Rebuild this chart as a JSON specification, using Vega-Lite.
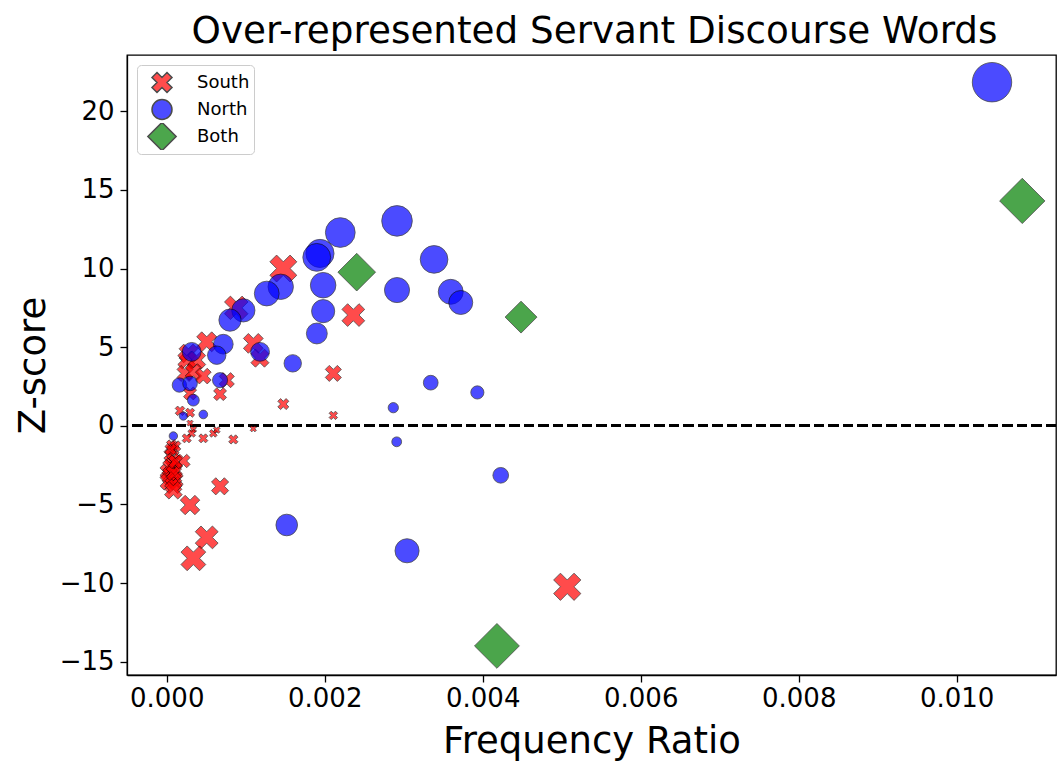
{
  "$schema": "https://vega.github.io/schema/vega-lite/v6.json",
  "width": 929,
  "height": 620,
  "autosize": {"type": "none"},
  "padding": {"left": 127, "top": 55, "right": 1, "bottom": 87},
  "background": "white",
  "title": {"text": "Over-represented Servant Discourse Words", "fontSize": 37.3, "font": "DejaVu Sans", "fontWeight": "normal", "anchor": "middle", "offset": 4, "dx": 3, "color": "black"},
  "config": {
    "view": {"stroke": "black", "strokeWidth": 1.3},
    "axis": {"grid": false, "domainColor": "black", "domainWidth": 1.3, "tickColor": "black", "tickWidth": 1.3, "tickSize": 7, "labelColor": "black", "titleColor": "black", "labelFont": "DejaVu Sans", "titleFont": "DejaVu Sans", "labelFontSize": 26, "titleFontSize": 37, "titleFontWeight": "normal"},
    "legend": {"orient": "top-left", "offset": 10, "padding": 4, "strokeColor": "#cccccc", "fillColor": "white", "cornerRadius": 4, "labelFontSize": 18, "labelFont": "DejaVu Sans", "labelColor": "black", "symbolSize": 400, "rowPadding": 0, "clipHeight": 27, "symbolOffset": 10, "labelOffset": 24, "symbolOpacity": 0.7}
  },
  "data": {"values": [
    {"group": "South", "ratio": 0.001476, "z": 10.0},
    {"group": "South", "ratio": 0.002362, "z": 7.04},
    {"group": "South", "ratio": 0.002109, "z": 3.33},
    {"group": "South", "ratio": 0.001476, "z": 1.38},
    {"group": "South", "ratio": 0.002109, "z": 0.66},
    {"group": "South", "ratio": 0.001096, "z": -0.19},
    {"group": "South", "ratio": 0.000843, "z": -0.87},
    {"group": "South", "ratio": 0.001096, "z": 5.24},
    {"group": "South", "ratio": 0.00118, "z": 4.3},
    {"group": "South", "ratio": 0.000506, "z": 5.34},
    {"group": "South", "ratio": 0.000274, "z": 4.6},
    {"group": "South", "ratio": 0.000253, "z": 4.18},
    {"group": "South", "ratio": 0.00038, "z": 4.18},
    {"group": "South", "ratio": 0.000232, "z": 3.33},
    {"group": "South", "ratio": 0.000337, "z": 3.43},
    {"group": "South", "ratio": 0.000463, "z": 3.16},
    {"group": "South", "ratio": 0.00076, "z": 2.9},
    {"group": "South", "ratio": 0.000675, "z": 2.01},
    {"group": "South", "ratio": 0.000295, "z": 2.06},
    {"group": "South", "ratio": 0.000168, "z": 0.95},
    {"group": "South", "ratio": 0.000295, "z": 0.83},
    {"group": "South", "ratio": 0.000295, "z": 0.17},
    {"group": "South", "ratio": 0.000337, "z": -0.23},
    {"group": "South", "ratio": 0.000316, "z": -0.48},
    {"group": "South", "ratio": 0.000253, "z": -0.8},
    {"group": "South", "ratio": 0.000463, "z": -0.8},
    {"group": "South", "ratio": 0.00059, "z": -0.48},
    {"group": "South", "ratio": 0.000633, "z": -0.27},
    {"group": "South", "ratio": 0.00088, "z": 7.5},
    {"group": "South", "ratio": 0.000063, "z": -1.23},
    {"group": "South", "ratio": 0.000084, "z": -1.54},
    {"group": "South", "ratio": 0.000042, "z": -1.86},
    {"group": "South", "ratio": 0.000084, "z": -2.18},
    {"group": "South", "ratio": 0.00021, "z": -2.24},
    {"group": "South", "ratio": 0.000063, "z": -2.5},
    {"group": "South", "ratio": 0.000105, "z": -2.82},
    {"group": "South", "ratio": 0.00001, "z": -2.92},
    {"group": "South", "ratio": 0.000042, "z": -3.24},
    {"group": "South", "ratio": 0.000105, "z": -3.45},
    {"group": "South", "ratio": 0.00002, "z": -3.56},
    {"group": "South", "ratio": 0.000084, "z": -3.77},
    {"group": "South", "ratio": 0.000084, "z": -4.1},
    {"group": "South", "ratio": 0.00011, "z": -1.3},
    {"group": "South", "ratio": 0.00004, "z": -2.6},
    {"group": "South", "ratio": 0.00009, "z": -3.0},
    {"group": "South", "ratio": 0.00011, "z": -2.3},
    {"group": "South", "ratio": 0.00005, "z": -1.5},
    {"group": "South", "ratio": 0.000675, "z": -3.85},
    {"group": "South", "ratio": 0.000295, "z": -5.04},
    {"group": "South", "ratio": 0.000506, "z": -7.1},
    {"group": "South", "ratio": 0.000337, "z": -8.43},
    {"group": "South", "ratio": 0.00507, "z": -10.24},
    {"group": "North", "ratio": 0.010447, "z": 21.85},
    {"group": "North", "ratio": 0.002915, "z": 13.03},
    {"group": "North", "ratio": 0.002197, "z": 12.29},
    {"group": "North", "ratio": 0.00194, "z": 10.96},
    {"group": "North", "ratio": 0.001899, "z": 10.71},
    {"group": "North", "ratio": 0.003384, "z": 10.58},
    {"group": "North", "ratio": 0.00198, "z": 8.94},
    {"group": "North", "ratio": 0.002915, "z": 8.63},
    {"group": "North", "ratio": 0.001443, "z": 8.84},
    {"group": "North", "ratio": 0.003595, "z": 8.52},
    {"group": "North", "ratio": 0.001266, "z": 8.41},
    {"group": "North", "ratio": 0.003722, "z": 7.84},
    {"group": "North", "ratio": 0.00198, "z": 7.29},
    {"group": "North", "ratio": 0.00097, "z": 7.34},
    {"group": "North", "ratio": 0.000801, "z": 6.72},
    {"group": "North", "ratio": 0.0019, "z": 5.87},
    {"group": "North", "ratio": 0.000716, "z": 5.19},
    {"group": "North", "ratio": 0.000633, "z": 4.49},
    {"group": "North", "ratio": 0.000316, "z": 4.7},
    {"group": "North", "ratio": 0.001181, "z": 4.7},
    {"group": "North", "ratio": 0.001595, "z": 3.97},
    {"group": "North", "ratio": 0.000675, "z": 2.9},
    {"group": "North", "ratio": 0.00016, "z": 2.59},
    {"group": "North", "ratio": 0.000295, "z": 2.69},
    {"group": "North", "ratio": 0.000337, "z": 1.63},
    {"group": "North", "ratio": 0.003342, "z": 2.74},
    {"group": "North", "ratio": 0.003932, "z": 2.12},
    {"group": "North", "ratio": 0.002868, "z": 1.15},
    {"group": "North", "ratio": 0.00021, "z": 0.62},
    {"group": "North", "ratio": 0.000463, "z": 0.72},
    {"group": "North", "ratio": 0.000084, "z": -0.65},
    {"group": "North", "ratio": 0.002911, "z": -1.02},
    {"group": "North", "ratio": 0.004228, "z": -3.15},
    {"group": "North", "ratio": 0.001519, "z": -6.31},
    {"group": "North", "ratio": 0.003042, "z": -7.95},
    {"group": "Both", "ratio": 0.002405, "z": 9.77},
    {"group": "Both", "ratio": 0.004485, "z": 6.91},
    {"group": "Both", "ratio": 0.01083, "z": 14.3},
    {"group": "Both", "ratio": 0.00418, "z": -14.0}
  ]},
  "layer": [
    {
      "mark": {"type": "rule", "color": "black", "strokeWidth": 2.5, "strokeDash": [10, 4.5]},
      "encoding": {"y": {"datum": 0, "type": "quantitative"}}
    },
    {
      "mark": {"type": "point", "filled": true, "opacity": 0.7, "stroke": "black", "strokeWidth": 0.8},
      "encoding": {
        "x": {"field": "ratio", "type": "quantitative", "scale": {"domain": [-0.000503, 0.011257], "nice": false, "zero": false},
              "axis": {"title": "Frequency Ratio", "values": [0, 0.002, 0.004, 0.006, 0.008, 0.01], "format": ".3f", "labelPadding": 3, "titleY": 77, "titleBaseline": "alphabetic"}},
        "y": {"field": "z", "type": "quantitative", "scale": {"domain": [-15.85, 23.58], "nice": false, "zero": false},
              "axis": {"title": "Z-score", "values": [-15, -10, -5, 0, 5, 10, 15, 20], "format": "d", "labelPadding": 6, "titleX": -94, "titleY": 310, "titleAngle": -90, "titleAlign": "center", "titleBaseline": "middle"}},
        "color": {"field": "group", "type": "nominal", "scale": {"domain": ["South", "North", "Both"], "range": ["red", "blue", "green"]},
                  "legend": {"title": null, "encode": {"symbols": {"update": {"size": {"signal": "datum.value === 'South' ? 361 : datum.value === 'North' ? 784 : 729"}, "stroke": {"value": "black"}, "strokeWidth": {"value": 0.8}}}}}},
        "shape": {"field": "group", "type": "nominal", "scale": {"domain": ["South", "North", "Both"], "range": ["M -0.5 -1 L 0 -0.5 L 0.5 -1 L 1 -0.5 L 0.5 0 L 1 0.5 L 0.5 1 L 0 0.5 L -0.5 1 L -1 0.5 L -0.5 0 L -1 -0.5 Z", "circle", "M 0 -1.414 L 1.414 0 L 0 1.414 L -1.414 0 Z"]},
                  "legend": {"title": null, "encode": {"symbols": {"update": {"size": {"signal": "datum.value === 'South' ? 361 : datum.value === 'North' ? 784 : 729"}, "stroke": {"value": "black"}, "strokeWidth": {"value": 0.8}}}}}},
        "size": {"field": "z", "type": "quantitative", "scale": {"domain": [-22, 0, 22], "range": [1565, 25, 1565]}, "legend": null}
      }
    }
  ]
}
